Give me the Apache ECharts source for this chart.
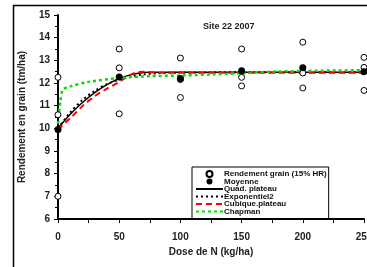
<!DOCTYPE html>
<html>
<head>
<meta charset="utf-8">
<script src="https://cdn.jsdelivr.net/npm/echarts@6/dist/echarts.min.js"></script>
<style>
  html, body { margin: 0; padding: 0; background: #fff; }
  #chart { width: 367px; height: 267px; }
</style>
</head>
<body>
<div id="chart"></div>
<script>
  // doses d'azote (kg/ha)
  var doses = [0, 50, 100, 150, 200, 250];
  // rendements observés (3 répétitions) et moyenne
  var rep1 = [12.25, 13.5, 13.1, 13.5, 13.8, 13.13];
  var rep2 = [10.6, 12.67, 12.15, 12.25, 12.44, 12.69];
  var rep3 = [7.0, 10.64, 11.36, 11.87, 11.78, 11.67];
  var moyenne = [9.95, 12.27, 12.2, 12.54, 12.67, 12.5];

  // courbes ajustées
  var quadX = [0, 10, 20, 30, 40, 50, 60, 70, 75, 250];
  var quadY = [10.0, 10.62, 11.14, 11.58, 11.93, 12.2, 12.37, 12.46, 12.47, 12.47];
  var expoX = [0, 10, 20, 30, 40, 50, 60, 70, 80, 100, 150, 250];
  var expoY = [10.0, 10.7, 11.25, 11.65, 11.95, 12.15, 12.3, 12.38, 12.43, 12.46, 12.47, 12.47];
  var cubX = [0, 10, 20, 30, 40, 50, 60, 65, 70, 80, 90, 250];
  var cubY = [9.95, 10.45, 10.98, 11.42, 11.75, 12.05, 12.38, 12.48, 12.5, 12.46, 12.45, 12.45];
  var chapX = [0, 2, 4, 10, 25, 50, 75, 100, 125, 150, 175, 200, 225, 250];
  var chapY = [10.2, 11.2, 11.7, 11.85, 12.05, 12.22, 12.3, 12.33, 12.38, 12.43, 12.5, 12.53, 12.55, 12.56];

  function pairs(xs, ys) {
    return xs.map(function (x, i) { return [x, ys[i]]; });
  }

  var raw = [];
  [rep1, rep2, rep3].forEach(function (rep) {
    raw = raw.concat(pairs(doses, rep));
  });

  var font = 'Liberation Sans, Arial, sans-serif';
  var chart = echarts.init(document.getElementById('chart'));

  // pas de symbole dans l'icône de légende des courbes
  var hideSym = { opacity: 0 };

  chart.setOption({
    animation: false,
    textStyle: { fontFamily: font },
    title: {
      text: 'Site 22 2007',
      left: 198,
      top: 17,
      textStyle: { fontSize: 9, fontWeight: 'bold', color: '#222', fontFamily: font }
    },
    graphic: [{
      type: 'rect',
      shape: { x: 13.5, y: 5.5, width: 400, height: 300 },
      style: { fill: 'none', stroke: '#000', lineWidth: 1.5 },
      silent: true
    }],
    legend: {
      orient: 'vertical',
      left: 192,
      top: 167,
      padding: [3, 2, 4, 3],
      borderColor: '#000',
      borderWidth: 1,
      itemWidth: 27,
      itemHeight: 6,
      itemGap: -0.5,
      textStyle: { fontSize: 8, fontWeight: 'bold', color: '#111', padding: [0, 0, 0, -4] },
      data: ['Rendement grain (15% HR)', 'Moyenne', 'Quad. plateau', 'Exponentiel2', 'Cubique.plateau', 'Chapman']
    },
    grid: { left: 58, right: 3, top: 15, bottom: 48, outerBoundsMode: 'none' },
    xAxis: {
      type: 'value',
      min: 0,
      max: 250,
      interval: 50,
      name: 'Dose de N (kg/ha)',
      nameLocation: 'middle',
      nameGap: 25,
      nameTextStyle: { fontSize: 10, fontWeight: 'bold', color: '#222' },
      axisLine: { lineStyle: { color: '#000', width: 2 } },
      axisTick: { show: true, length: 4, lineStyle: { color: '#000', width: 1 } },
      minorTick: { show: true, splitNumber: 2, length: 4, lineStyle: { color: '#000' } },
      axisLabel: { fontSize: 10, fontWeight: 'bold', color: '#222', margin: 13, showMaxLabel: true },
      splitLine: { show: false }
    },
    yAxis: {
      type: 'value',
      min: 6,
      max: 15,
      interval: 1,
      name: 'Rendement en grain (tm/ha)',
      nameLocation: 'middle',
      nameGap: 31,
      nameTextStyle: { fontSize: 10, fontWeight: 'bold', color: '#222' },
      axisLine: { show: true, lineStyle: { color: '#000', width: 2 } },
      axisTick: { show: true, length: 4, lineStyle: { color: '#000', width: 1 } },
      minorTick: { show: true, splitNumber: 2, length: 3, lineStyle: { color: '#000' } },
      axisLabel: { fontSize: 10, fontWeight: 'bold', color: '#222', margin: 8 },
      splitLine: { show: false }
    },
    series: [
      {
        name: 'Quad. plateau',
        type: 'line',
        data: pairs(quadX, quadY),
        smooth: 0.3,
        symbol: 'none',
        lineStyle: { color: '#000', width: 1.5 },
        itemStyle: hideSym,
        z: 2
      },
      {
        name: 'Exponentiel2',
        type: 'line',
        data: pairs(expoX, expoY),
        smooth: 0.3,
        symbol: 'none',
        lineStyle: { color: '#000', width: 2, type: [2, 3] },
        itemStyle: hideSym,
        z: 2
      },
      {
        name: 'Cubique.plateau',
        type: 'line',
        data: pairs(cubX, cubY),
        smooth: 0.3,
        symbol: 'none',
        lineStyle: { color: '#ff0000', width: 2, type: [6, 4] },
        itemStyle: hideSym,
        z: 3
      },
      {
        name: 'Chapman',
        type: 'line',
        data: pairs(chapX, chapY),
        smooth: 0.3,
        symbol: 'none',
        lineStyle: { color: '#00e000', width: 2.5, type: [3, 3] },
        itemStyle: hideSym,
        z: 3
      },
      {
        name: 'Rendement grain (15% HR)',
        type: 'scatter',
        data: raw,
        symbol: 'circle',
        symbolSize: 6,
        itemStyle: { color: '#fff', borderColor: '#000', borderWidth: 1, opacity: 1 },
        z: 4
      },
      {
        name: 'Moyenne',
        type: 'scatter',
        data: pairs(doses, moyenne),
        symbol: 'circle',
        symbolSize: 7,
        itemStyle: { color: '#000', opacity: 1 },
        z: 5
      }
    ]
  });
</script>
</body>
</html>
